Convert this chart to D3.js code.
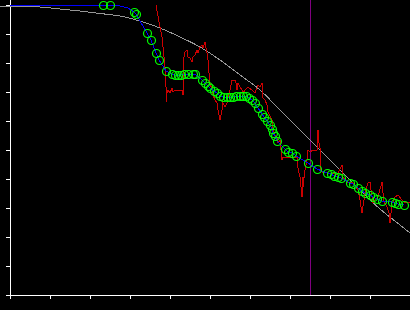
<!DOCTYPE html>
<html>
<head>
<meta charset="utf-8">
<script src="https://cdn.jsdelivr.net/npm/d3@7"></script>
<style>
  html, body { margin: 0; padding: 0; background: #000; }
  svg { display: block; background: #000; }
</style>
</head>
<body>
<svg id="chart" width="410" height="310"></svg>
<script>
// ---- data ----
const xTicks = d3.range(0, 401, 40);
const yTicks = d3.range(0, 291, 29);

// smooth model curve
const curveX = [-10, 30, 50, 70, 90, 110, 130, 150, 170, 190, 210, 230, 250, 270, 290, 310, 330, 350, 370, 390, 400];
const curveY = [289, 288, 286, 284, 281.5, 279, 274, 267, 258, 248, 235, 220, 205, 185, 165, 145, 125, 105, 86, 70, 62];

// noisy observations
const obsX = [146,150,152,153,154,155,156,156,157,158,160,162,163,165,168,172,173,173,175,177,178,180,182,183,185,187,188,190,192,193,195,197,198,199,200,202,203,205,207,208,210,212,212,213,215,217,218,220,222,225,226,227,228,230,232,233,235,238,242,245,248,250,252,252,253,255,257,258,262,263,265,267,268,270,272,273,277,280,283,287,288,290,292,293,293,295,297,298,300,303,307,308,309,310,311,312,315,318,323,327,332,333,335,337,343,348,350,352,355,358,360,362,363,365,368,372,373,373,377,379,380,382,383,385,388,392,395,397,400];
const obsY = [290,268,258,248,238,228,208,193,202,205,202,207,203,205,205,205,200,232,243,245,238,237,233,238,240,245,242,248,250,247,253,242,235,222,212,205,200,195,192,185,175,185,195,192,188,192,198,205,215,215,212,205,212,208,205,202,205,208,205,202,210,208,212,202,197,195,190,183,175,167,160,158,152,155,135,138,137,138,137,138,127,118,98,118,108,125,135,145,143,145,145,165,152,147,125,123,123,122,122,120,130,118,115,113,112,105,95,82,102,112,113,98,92,95,98,113,102,95,88,82,72,92,93,98,100,95,92,93,92];

// filtered estimates (circles)
const estX = [93,100,124,126,137,141,146,149,156,162,165,168,171,174,178,183,185,192,195,198,200,204,207,210,213,217,220,223,226,230,233,236,239,242,245,248,252,254,257,260,262,263,265,267,275,278,282,286,298,307,317,321,324,328,331,340,343,348,352,355,360,363,367,372,382,385,388,394];
const estY = [290,290,283,281,262,255,242,235,224,221,220,220,220,221,221,221,221,215,212,209,207,204,202,199,198,198,198,198,199,199,199,199,197,195,192,187,181,178,174,170,166,162,159,154,146,143,142,139,132,126,122,121,119,118,117,112,111,107,104,102,100,98,96,94,93,92,91,90];

// extra path-only points of the estimate line (no marker)
const leadX = [0, 110, 118];
const leadY = [290, 289, 287];

// vertical marker
const markerX = 300;

// ---- drawing ----
const svg = d3.select("#chart");
const x = d3.scaleLinear().domain([0, 400]).range([10, 410]);
const y = d3.scaleLinear().domain([0, 290]).range([295, 5]);

// axes
const gx = svg.append("g").attr("transform", "translate(0,295)")
  .call(d3.axisBottom(x).tickValues(xTicks).tickSize(4).tickSizeOuter(0).tickFormat(""));
const gy = svg.append("g").attr("transform", "translate(10,0)")
  .call(d3.axisLeft(y).tickValues(yTicks).tickSize(4).tickSizeOuter(0).tickFormat(""));
[gx, gy].forEach(g => {
  g.select(".domain").remove();
  g.selectAll(".tick line").attr("stroke", "#fff").attr("shape-rendering", "crispEdges");
});
svg.append("line").attr("x1", 10.5).attr("x2", 10.5).attr("y1", 0).attr("y2", 295.5)
  .attr("stroke", "#fff").attr("shape-rendering", "crispEdges");
svg.append("line").attr("x1", 10).attr("x2", 410).attr("y1", 295.5).attr("y2", 295.5)
  .attr("stroke", "#fff").attr("shape-rendering", "crispEdges");

// vertical marker line
svg.append("line").attr("x1", x(markerX) + 0.5).attr("x2", x(markerX) + 0.5)
  .attr("y1", 0).attr("y2", 295)
  .attr("stroke", "#800080").attr("stroke-width", 1).attr("shape-rendering", "crispEdges");

// model curve
const curvePts = curveX.map((d, i) => [d, curveY[i]]);
svg.append("path").datum(curvePts)
  .attr("d", d3.line().x(d => x(d[0])).y(d => y(d[1])).curve(d3.curveMonotoneX))
  .attr("fill", "none").attr("stroke", "#969696").attr("stroke-width", 1)
  .attr("shape-rendering", "crispEdges");

// observations
const obsPts = obsX.map((d, i) => [d, obsY[i]]);
svg.append("path").datum(obsPts)
  .attr("d", d3.line().x(d => x(d[0])).y(d => y(d[1])))
  .attr("fill", "none").attr("stroke", "#cc0000").attr("stroke-width", 1)
  .attr("shape-rendering", "crispEdges");

// estimate line
const estPts = estX.map((d, i) => [d, estY[i]]);
const bluePts = leadX.map((d, i) => [d, leadY[i]]).concat(estPts).sort((a, b) => a[0] - b[0]);
svg.append("path").datum(bluePts)
  .attr("d", d3.line().x(d => x(d[0])).y(d => y(d[1])))
  .attr("fill", "none").attr("stroke", "#0000ff").attr("stroke-width", 1)
  .attr("shape-rendering", "crispEdges");

// estimate markers
svg.append("g").selectAll("circle").data(estPts).join("circle")
  .attr("cx", d => x(d[0]) + 0.5).attr("cy", d => y(d[1]) + 0.5).attr("r", 4)
  .attr("fill", "none").attr("stroke", "#00ff00").attr("stroke-width", 1.2);
</script>
</body>
</html>
